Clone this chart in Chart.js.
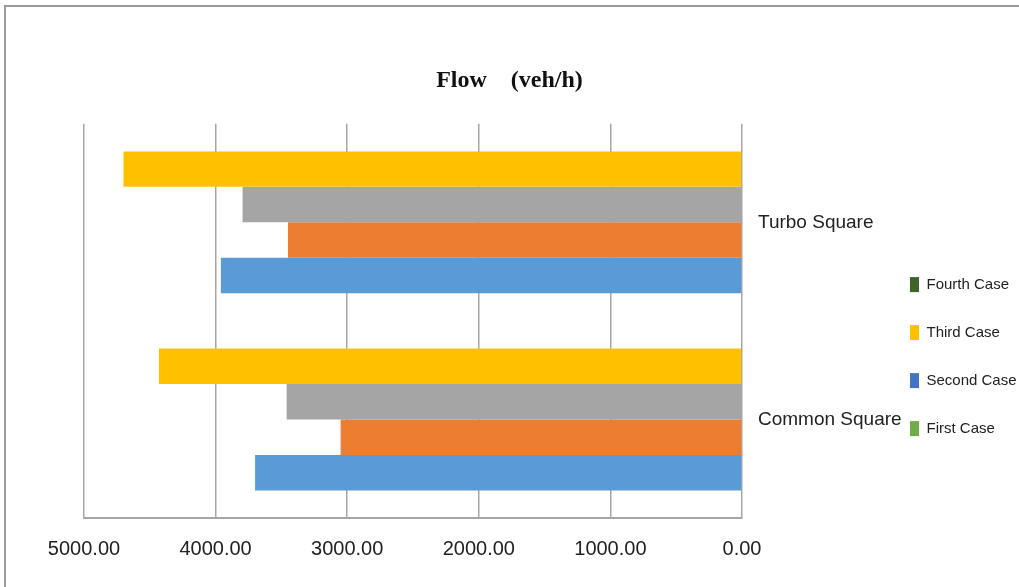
<!DOCTYPE html>
<html>
<head>
<meta charset="utf-8">
<script src="https://cdn.jsdelivr.net/npm/chart.js@4"></script>
<style>
  html, body { margin: 0; padding: 0; background: #fff; }
  #wrap { position: relative; width: 1019px; height: 587px; overflow: hidden; }
  #frame { position: absolute; left: 4px; top: 5px; width: 1030px; height: 600px;
           border-top: 2px solid #9a9a9a; border-left: 2px solid #9a9a9a; }
  canvas { position: absolute; left: 0; top: 0; }
</style>
</head>
<body>
<div id="wrap">
  <div id="frame"></div>
  <canvas id="flow-chart" width="1019" height="587"></canvas>
</div>
<script>
const CATEGORIES = ['Turbo Square', 'Common Square'];

// bars from top to bottom inside each group
const SERIES_NAMES = ['Fourth Case', 'Third Case', 'Second Case', 'First Case'];
const FOURTH_CASE = [4700, 4430];
const THIRD_CASE = [3795, 3460];
const SECOND_CASE = [3450, 3050];
const FIRST_CASE = [3960, 3700];

const BAR_COLORS = ['#FFC000', '#A5A5A5', '#ED7D31', '#5B9BD5'];

// legend as printed in the figure
const LEGEND_LABELS = ['Fourth Case', 'Third Case', 'Second Case', 'First Case'];
const LEGEND_COLORS = ['#3F6428', '#FFC000', '#4472C4', '#70AD47'];

const X_TICKS_MAX = 5000;
const X_TICKS_STEP = 1000;

const LABEL_FONT = "'Liberation Sans', sans-serif";

Chart.defaults.color = '#222';
Chart.defaults.animation = false;

// the category labels run under the legend, so do not clip them to the axis box
const unclipCategoryLabels = {
  id: 'unclipCategoryLabels',
  afterLayout(chart) {
    chart.scales.y.right = chart.width;
  }
};

function addFlowChart() {
  const ctx = document.getElementById('flow-chart');

  if (!ctx) {
    return;
  }

  const values = [FOURTH_CASE, THIRD_CASE, SECOND_CASE, FIRST_CASE];
  const datasets = [];

  for (let i = 0; i < values.length; i++) {
    datasets.push({
      label: SERIES_NAMES[i],
      data: values[i],
      backgroundColor: BAR_COLORS[i],
      borderWidth: 0,
      barPercentage: 1,
      categoryPercentage: 0.72,
    });
  }

  new Chart(ctx, {
    type: 'bar',
    data: {
      labels: CATEGORIES,
      datasets: datasets,
    },
    plugins: [unclipCategoryLabels],
    options: {
      responsive: false,
      indexAxis: 'y',
      layout: {
        padding: { left: 0, right: 0, top: 0, bottom: 7 }
      },
      plugins: {
        title: {
          display: true,
          text: 'Flow    (veh/h)',
          color: '#111',
          font: { family: "'Liberation Serif', serif", size: 24, weight: 'bold' },
          padding: { top: 66, bottom: 29 }
        },
        legend: {
          position: 'right',
          align: 'center',
          maxWidth: 142,
          title: {
            display: true,
            text: ' ',
            font: { size: 6 },
            padding: { top: 63, bottom: 63 }
          },
          labels: {
            boxWidth: 9,
            boxHeight: 15,
            padding: 33,
            color: '#404040',
            font: { family: LABEL_FONT, size: 15 },
            generateLabels: () => LEGEND_LABELS.map((text, i) => ({
              text: text,
              fillStyle: LEGEND_COLORS[i],
              strokeStyle: LEGEND_COLORS[i],
              lineWidth: 0,
              hidden: false,
              datasetIndex: i
            }))
          }
        },
        tooltip: { enabled: false }
      },
      scales: {
        x: {
          reverse: true,
          min: 0,
          max: X_TICKS_MAX,
          ticks: {
            stepSize: X_TICKS_STEP,
            padding: 19,
            color: '#222',
            font: { family: LABEL_FONT, size: 20 },
            callback: (v) => Number(v).toFixed(2)
          },
          grid: {
            color: '#a6a6a6',
            lineWidth: 1.5,
            drawTicks: false
          },
          border: { color: '#a6a6a6', width: 2 },
          afterFit: (scale) => { scale.paddingLeft = 84; }
        },
        y: {
          position: 'right',
          ticks: {
            padding: 16,
            color: '#222',
            font: { family: LABEL_FONT, size: 19 }
          },
          grid: { display: false, drawTicks: false },
          border: { display: false },
          afterFit: (scale) => { scale.width = 135; }
        }
      }
    }
  });
}

addFlowChart();
</script>
</body>
</html>
